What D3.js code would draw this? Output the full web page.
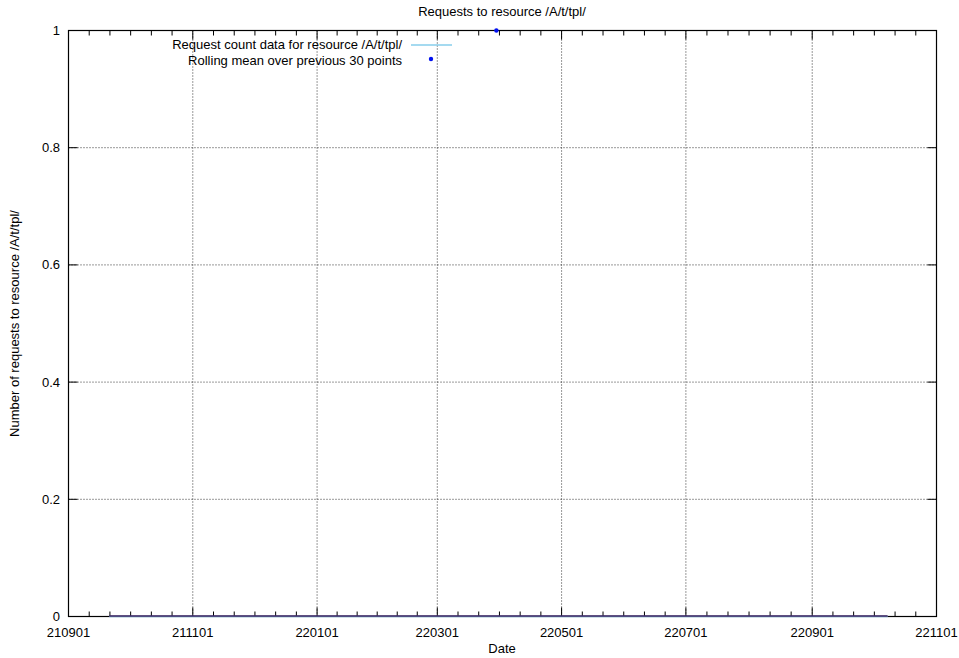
<!DOCTYPE html>
<html><head><meta charset="utf-8">
<script src="https://cdn.jsdelivr.net/npm/d3@7"></script>
<style>body{margin:0;background:#fff}text{font-family:"Liberation Sans",Arial,sans-serif;font-size:13px;fill:#000}</style>
</head><body><svg id="c" width="959" height="658"></svg>
<script>
const title = "Requests to resource /A/t/tpl/";
const yLabel = "Number of requests to resource /A/t/tpl/";
const xLabel = "Date";
const legendLabels = ["Request count data for resource /A/t/tpl/", "Rolling mean over previous 30 points"];
const xTickLabels = ["210901","211101","220101","220301","220501","220701","220901","221101"];
const yTickValues = [0, 0.2, 0.4, 0.6, 0.8, 1];
// request count series (daily counts, all zero over the range)
const countDates = ["2021-09-21","2021-11-01","2022-01-01","2022-03-01","2022-05-01","2022-07-01","2022-09-01","2022-10-08"];
const countValues = [0,0,0,0,0,0,0,0];
// rolling mean points
const meanZeroDates = ["2021-09-21","2021-11-01","2022-01-01","2022-03-01","2022-05-01","2022-07-01","2022-09-01","2022-10-08"];
const meanZeroValues = [0,0,0,0,0,0,0,0];
const meanPeakDates = ["2022-03-30"];
const meanPeakValues = [1];

const parse = d3.timeParse("%y%m%d");
const parseISO = d3.timeParse("%Y-%m-%d");
const svg = d3.select("#c");
const L = 68.5, R = 936.5, T = 30.5, B = 616.5;
const x = d3.scaleTime().domain([parse(xTickLabels[0]), parse(xTickLabels[xTickLabels.length-1])]).range([L, R]);
const y = d3.scaleLinear().domain([0, 1]).range([B, T]);

// grid
const g = svg.append("g");
xTickLabels.slice(1, -1).forEach(t => {
  g.append("line").attr("x1", x(parse(t))).attr("x2", x(parse(t))).attr("y1", T).attr("y2", B)
    .attr("stroke", "#000").attr("stroke-width", 1).attr("stroke-dasharray", "1,2").attr("opacity", 0.8);
});
yTickValues.slice(1, -1).forEach(v => {
  g.append("line").attr("x1", L).attr("x2", R).attr("y1", y(v)).attr("y2", y(v))
    .attr("stroke", "#000").attr("stroke-width", 1).attr("stroke-dasharray", "1,2").attr("opacity", 0.8);
});

// ticks
const ticks = svg.append("g").attr("stroke", "#000").attr("stroke-width", 1);
for (let i = 0; i < xTickLabels.length; i++) {
  const d0 = parse(xTickLabels[i]);
  const px = x(d0);
  ticks.append("line").attr("x1", px).attr("x2", px).attr("y1", B).attr("y2", B - 9);
  ticks.append("line").attr("x1", px).attr("x2", px).attr("y1", T).attr("y2", T + 9);
  if (i < xTickLabels.length - 1) {
    const d1 = parse(xTickLabels[i+1]);
    for (let k = 1; k < 6; k++) {
      const m = x(new Date(+d0 + (d1 - d0) * k / 6));
      ticks.append("line").attr("x1", m).attr("x2", m).attr("y1", B).attr("y2", B - 5);
      ticks.append("line").attr("x1", m).attr("x2", m).attr("y1", T).attr("y2", T + 5);
    }
  }
}
yTickValues.forEach(v => {
  ticks.append("line").attr("x1", L).attr("x2", L + 9).attr("y1", y(v)).attr("y2", y(v));
  ticks.append("line").attr("x1", R).attr("x2", R - 9).attr("y1", y(v)).attr("y2", y(v));
});

// border
svg.append("rect").attr("x", L).attr("y", T).attr("width", R - L).attr("height", B - T)
  .attr("fill", "none").attr("stroke", "#000").attr("stroke-width", 1.2);

// data
const countData = countDates.map((d, i) => ({d: parseISO(d), v: countValues[i]}));
svg.append("path").datum(countData).attr("fill", "none").attr("stroke", "#87ceeb").attr("stroke-width", 1.5)
  .attr("d", d3.line().x(p => x(p.d)).y(p => y(p.v)));
const meanZero = meanZeroDates.map((d, i) => ({d: parseISO(d), v: meanZeroValues[i]}));
svg.append("path").datum(meanZero).attr("fill", "none").attr("stroke", "#3a1f5e").attr("stroke-width", 1.6)
  .attr("d", d3.line().x(p => x(p.d)).y(p => y(p.v) - 0.5));
svg.selectAll(".pk").data(meanPeakDates.map((d, i) => ({d: parseISO(d), v: meanPeakValues[i]}))).enter()
  .append("circle").attr("cx", p => x(p.d)).attr("cy", p => y(p.v)).attr("r", 2.2).attr("fill", "#0010f0");

// tick labels
xTickLabels.forEach(t => {
  svg.append("text").attr("x", x(parse(t))).attr("y", 637).attr("text-anchor", "middle").text(t);
});
yTickValues.forEach(v => {
  svg.append("text").attr("x", 60).attr("y", y(v) + 4.5).attr("text-anchor", "end").text(v === 0 || v === 1 ? String(v) : v.toFixed(1));
});

// titles
svg.append("text").attr("x", 502).attr("y", 16).attr("text-anchor", "middle").text(title);
svg.append("text").attr("x", 502).attr("y", 653).attr("text-anchor", "middle").text(xLabel);
svg.append("text").attr("transform", "translate(19," + ((T + B) / 2) + ") rotate(-90)").attr("text-anchor", "middle").text(yLabel);

// legend
svg.append("text").attr("x", 402).attr("y", 49).attr("text-anchor", "end").text(legendLabels[0]);
svg.append("text").attr("x", 402).attr("y", 65).attr("text-anchor", "end").text(legendLabels[1]);
svg.append("line").attr("x1", 411).attr("x2", 452).attr("y1", 45).attr("y2", 45).attr("stroke", "#87ceeb").attr("stroke-width", 1.5);
svg.append("circle").attr("cx", 431).attr("cy", 59).attr("r", 2.2).attr("fill", "#0010f0");
</script></body></html>
